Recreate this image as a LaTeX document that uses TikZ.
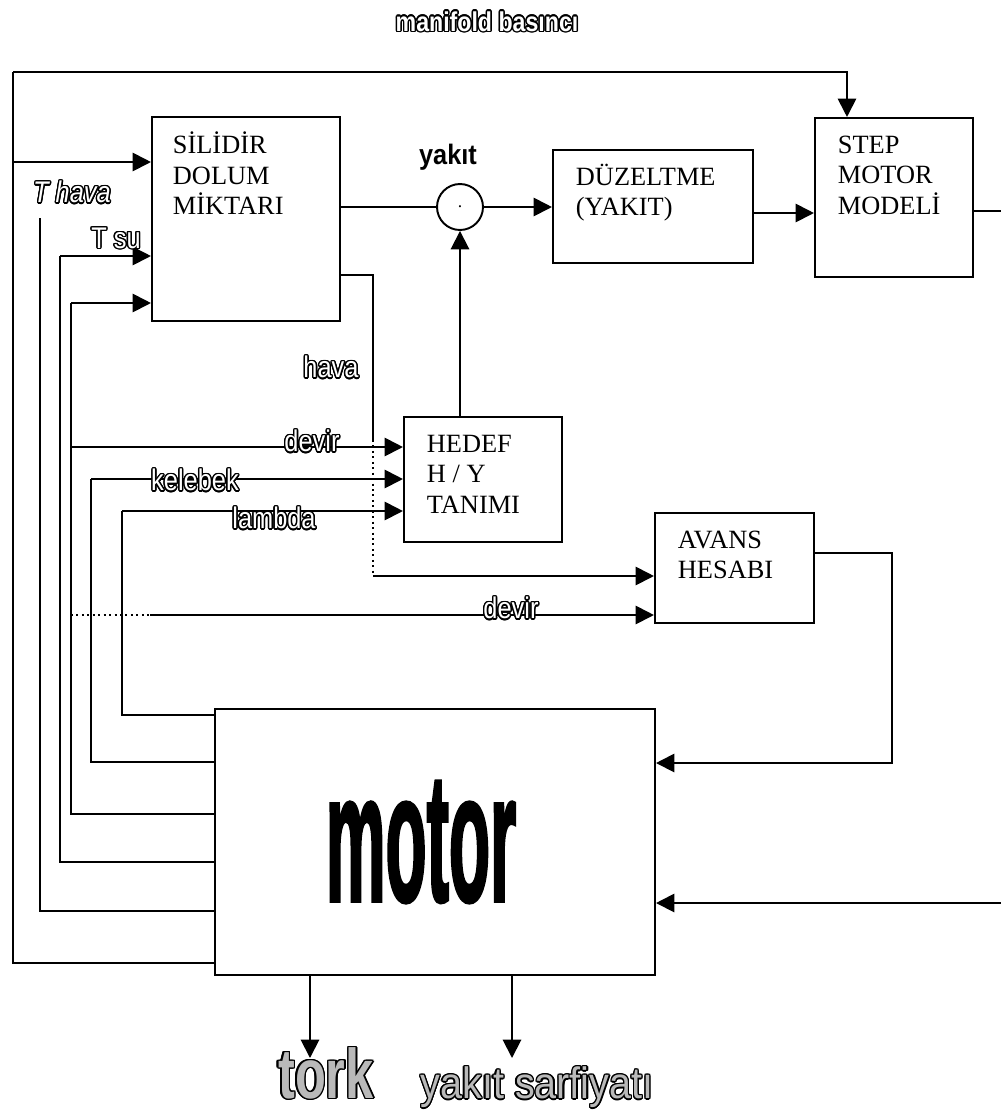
\documentclass[tikz,border=0pt]{standalone}
\usepackage{fontspec}
\setmainfont{Liberation Serif}
\newfontfamily\sigfont[FakeStretch=0.85]{Liberation Sans}
\newfontfamily\outfont[FakeStretch=0.9]{Liberation Sans}
\newfontfamily\torkfont[FakeStretch=0.72]{Liberation Sans}
\newfontfamily\motorfont[FakeStretch=0.75, FakeBold=2]{Liberation Sans}
\usepackage{xcolor}
\usepackage{contour}
\contourlength{0.8pt}
\usetikzlibrary{arrows.meta, positioning}

\newcommand{\hollow}[1]{\contour{black}{\textcolor{white}{#1}}}
\newcommand{\hatched}[1]{\contour{black}{\textcolor{gray!55}{#1}}}

\begin{document}
\begin{tikzpicture}[x=0.02cm, y=-0.02cm, line width=1.1pt,
  arr/.style={-{Triangle[length=10.5pt,width=10.5pt]}},
  block/.style={draw, rectangle, line width=1.2pt, inner sep=0pt},
  blocktxt/.style={anchor=north west, align=left, inner sep=0pt, font=\fontsize{15}{17.4}\selectfont},
  siglbl/.style={inner sep=0pt, font=\sigfont\fontsize{17}{17}\selectfont}]
  \useasboundingbox (0,0) rectangle (1001,1113);

  % Blocks
  \node[block, minimum width=3.76cm, minimum height=4.08cm] (sil) at (246,219) {};
  \node[blocktxt] at (172,131) {SİLİDİR\\DOLUM\\MİKTARI};
  \node[draw, circle, minimum size=0.92cm, inner sep=0pt] (mul) at (460,207) {.};
  \node[block, minimum width=4cm, minimum height=2.26cm] (duz) at (653,206.5) {};
  \node[blocktxt] at (575,163) {DÜZELTME\\(YAKIT)};
  \node[block, minimum width=3.16cm, minimum height=3.18cm] (step) at (894,197.5) {};
  \node[blocktxt] at (837,135) {STEP\\MOTOR\\MODELİ};
  \node[block, minimum width=3.16cm, minimum height=2.5cm] (hedef) at (483,479.5) {};
  \node[blocktxt] at (426,434) {HEDEF\\H / Y\\TANIMI};
  \node[block, minimum width=3.18cm, minimum height=2.2cm] (avans) at (734.5,568) {};
  \node[blocktxt] at (677,530) {AVANS\\HESABI};
  \node[block, minimum width=8.8cm, minimum height=5.32cm] (motor) at (435,842) {};
  \node[font=\motorfont\bfseries\fontsize{51}{51}\selectfont, inner sep=0pt] (motorlbl) at (421,842) {\scalebox{1}[2.05]{motor}};

  % Feedback lines from the motor
  \foreach \yy/\xx/\ytop in {963/13/72, 911/40/218, 862/60/256, 814/71/303, 762/91/479, 715/122/511}{
    \draw (motor.west |- 0,\yy) -| (\xx,\ytop);
  }
  % manifold basinci
  \draw[arr] (13,72) -| (step.north -| 847,0);
  \draw[arr] (13,162) -- (sil.west |- 0,162);
  \node[font=\sigfont\bfseries\fontsize{15.5}{15.5}\selectfont, inner sep=0pt] (manif) at (487,22) {\hollow{manifold basıncı}};
  % T hava, T su
  \node[siglbl] (thava) at (72,193) {\itshape\hollow{T hava}};
  \draw[arr] (60,256) -- (sil.west |- 0,256);
  \node[siglbl] (tsu) at (116,239) {\hollow{T su}};
  \draw[arr] (71,303) -- (sil.west |- 0,303);
  % devir, kelebek, lambda
  \draw[arr] (71,447) -- (hedef.west |- 0,447);
  \node[siglbl] (devir1) at (312,442) {\hollow{devir}};
  \draw[arr] (91,479) -- (hedef.west |- 0,479);
  \node[siglbl] (kelebek) at (195,481) {\hollow{kelebek}};
  \draw[arr] (122,511) -- (hedef.west |- 0,511);
  \node[siglbl] (lambda) at (274,519) {\hollow{lambda}};
  \draw[dotted] (71,615) -- (150,615);
  \draw[arr] (150,615) -- (avans.west |- 0,615);
  \node[siglbl] (devir2) at (511,609) {\hollow{devir}};
  % hava
  \draw (sil.east |- 0,275) -| (373,440);
  \draw[dotted] (373,440) -- (373,576);
  \draw[arr] (373,576) -- (avans.west |- 0,576);
  \node[siglbl] (hava) at (331,368) {\hollow{hava}};

  % Fuel path
  \draw (sil.east |- mul.west) -- (mul.west);
  \node[font=\outfont\bfseries\fontsize{16}{16}\selectfont, inner sep=0pt] (yakit) at (448,157) {yakıt};
  \draw[arr] (hedef.north -| mul.south) -- (mul.south);
  \draw[arr] (mul.east) -- (duz.west |- mul.east);
  \draw[arr] (duz.east |- 0,213) -- (step.west |- 0,213);
  \coordinate (stepout) at (1001,211);
  \draw (step.east |- stepout) -- (stepout);
  \coordinate (stepin) at (1001,903);
  \draw[arr] (stepin) -- (motor.east |- stepin);
  \draw[arr] (avans.east |- 0,553) -| (892,763) -- (motor.east |- 0,763);

  % Outputs
  \node[font=\torkfont\bfseries\fontsize{40}{40}\selectfont, inner sep=0pt] (tork) at (326,1074) {\hatched{tork}};
  \draw[arr] (motor.south -| 310,0) -- (310,1058);
  \node[font=\outfont\fontsize{25}{25}\selectfont, inner sep=0pt] (sarf) at (537,1088) {\hatched{yakıt sarfiyatı}};
  \draw[arr] (motor.south -| 512,0) -- (512,1058);
\end{tikzpicture}
\end{document}
